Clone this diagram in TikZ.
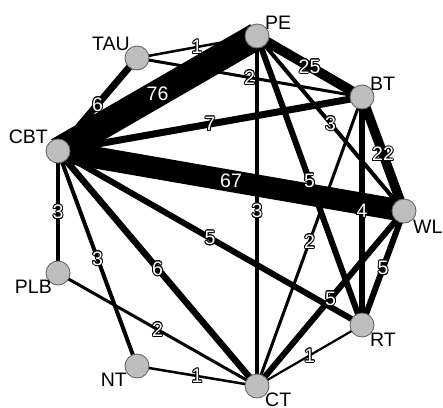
\documentclass[tikz,border=0pt]{standalone}
\usepackage{fontspec}
\setmainfont{Liberation Sans}
\definecolor{nodegray}{RGB}{190,190,190}
\definecolor{nodeborder}{RGB}{105,105,105}
\pgfdeclarelayer{edgelayer}
\pgfsetlayers{edgelayer,main}
\def\edgelist{CBT/PE/27/76, CBT/WL/22/67, PE/BT/10/25, BT/WL/9.5/22,
  CBT/BT/7/7, CBT/TAU/7/6, CBT/CT/6.5/6, CBT/RT/6/5, PE/RT/6/5, WL/RT/6/5,
  WL/CT/6/5, BT/RT/5.5/4, CBT/PLB/4/3, CBT/NT/4/3, PE/WL/4/3, PE/CT/4/3,
  TAU/BT/3/2, BT/CT/3/2, PLB/CT/3/2, TAU/PE/2.5/1, RT/CT/2.2/1, NT/CT/2.5/1}
\begin{document}
\begin{tikzpicture}[x=1pt,y=-1pt,
  vert/.style={circle, fill=nodegray, draw=nodeborder, line width=0.9pt,
    minimum size=24pt, inner sep=0pt},
  vlab/.style={font=\fontsize{19.5}{20}\selectfont, inner sep=0pt, text=black},
  wlab/.style={font=\fontsize{19.5}{20}\selectfont, inner sep=0pt}]
\useasboundingbox (0,0) rectangle (443,407);
% vertices
\node[vert] (PE)  at (257,36)  {};
\node[vert] (TAU) at (137,58)  {};
\node[vert] (BT)  at (362,97)  {};
\node[vert] (CBT) at (58,151)  {};
\node[vert] (WL)  at (404,211) {};
\node[vert] (PLB) at (58,273)  {};
\node[vert] (RT)  at (362,325) {};
\node[vert] (NT)  at (137,366) {};
\node[vert] (CT)  at (257,386) {};
% vertex labels
\node[vlab, anchor=south west] (PEl)  at ([shift={(8,-6)}]PE.center) {PE};
\node[vlab, anchor=south west] (BTl)  at ([shift={(8,-6)}]BT.center) {BT};
\node[vlab, anchor=north west] (WLl)  at ([shift={(9,9)}]WL.center) {WL};
\node[vlab, anchor=north west] (RTl)  at ([shift={(8,8)}]RT.center) {RT};
\node[vlab, anchor=north west] (CTl)  at ([shift={(8,7)}]CT.center) {CT};
\node[vlab, anchor=north east] (NTl)  at ([shift={(-10,7)}]NT.center) {NT};
\node[vlab, anchor=north east] (PLBl) at ([shift={(-6,7)}]PLB.center) {PLB};
\node[vlab, anchor=south east] (CBTl) at ([shift={(-10,-7)}]CBT.center) {CBT};
\node[vlab, anchor=south east] (TAUl) at ([shift={(-7,-7)}]TAU.center) {TAU};
% edges
\begin{pgfonlayer}{edgelayer}
\foreach \a/\b/\w/\t in \edgelist
  \draw[black, line width=\w pt] (\a.center) -- (\b.center);
\end{pgfonlayer}
% edge weights: white figures with a thin black outline
\foreach \a/\b/\w/\t in \edgelist {
  \path (\a.center) -- coordinate[midway] (m) (\b.center);
  \foreach \d in {0,30,...,330}
    \node[wlab, text=black] at ([shift={(\d:0.9)}]m) {\t};
  \node[wlab, text=white] (w\a\b) at (m) {\t};
}
\end{tikzpicture}
\end{document}
